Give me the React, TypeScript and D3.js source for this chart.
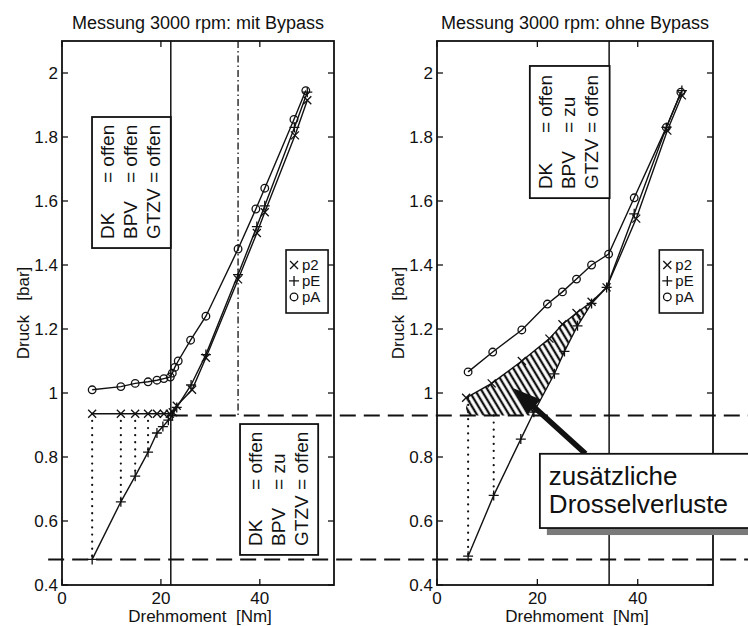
import React from 'react';
import * as d3 from 'd3';

const W = 748;
const H = 626;
const FONT = '"Liberation Sans", Arial, Helvetica, sans-serif';
const INK = '#111';

// axes
const xDomain: [number, number] = [0, 55];
const yDomain: [number, number] = [0.4, 2.1];
const xTicks = [0, 20, 40];
const yTicks = [0.4, 0.6, 0.8, 1, 1.2, 1.4, 1.6, 1.8, 2];

// Messung mit Bypass  [Drehmoment Nm, Druck bar]
const leftP2 = [[6.1, 0.935], [11.9, 0.935], [14.8, 0.935], [17.4, 0.935], [19.2, 0.935], [20.6, 0.935], [21.8, 0.935], [22.4, 0.94], [23.2, 0.96], [26.3, 1.01], [29.1, 1.11], [35.6, 1.355], [39.4, 1.5], [41.0, 1.565], [47.1, 1.805], [49.6, 1.915]];
const leftPE = [[6.1, 0.48], [11.9, 0.66], [14.8, 0.74], [17.4, 0.815], [19.2, 0.875], [20.4, 0.895], [21.5, 0.915], [22.3, 0.93], [23.2, 0.955], [26.1, 1.025], [29.1, 1.12], [35.6, 1.37], [39.4, 1.52], [41.0, 1.585], [47.0, 1.83], [49.6, 1.94]];
const leftPA = [[6.1, 1.01], [11.9, 1.02], [14.8, 1.03], [17.4, 1.035], [19.2, 1.04], [20.6, 1.045], [21.9, 1.05], [22.3, 1.062], [22.8, 1.08], [23.5, 1.1], [26.0, 1.165], [29.1, 1.24], [35.6, 1.45], [39.2, 1.575], [41.0, 1.64], [46.9, 1.855], [49.3, 1.945]];

// Messung ohne Bypass
const rightP2 = [[5.8, 0.985], [10.9, 1.03], [16.9, 1.1], [22.4, 1.17], [25.0, 1.215], [27.8, 1.25], [30.8, 1.285], [33.8, 1.33], [39.7, 1.545], [45.9, 1.82], [48.8, 1.93]];
const rightPE = [[6.2, 0.49], [11.3, 0.68], [16.7, 0.856], [19.3, 0.94], [23.4, 1.06], [25.4, 1.13], [28.0, 1.21], [30.8, 1.28], [33.8, 1.33], [39.3, 1.56], [45.7, 1.83], [48.8, 1.945]];
const rightPA = [[6.2, 1.066], [11.1, 1.128], [16.9, 1.197], [22.0, 1.278], [25.0, 1.316], [27.8, 1.356], [30.8, 1.4], [34.2, 1.434], [39.3, 1.61], [45.7, 1.83], [48.6, 1.94]];

// dotted drops [x, yTop, yBottom]
const leftDrops = [[6.1, 0.935, 0.48], [11.9, 0.935, 0.66], [14.8, 0.935, 0.74], [17.4, 0.935, 0.815]];
const rightDrops = [[6.2, 0.985, 0.49], [11.3, 0.93, 0.68]];

// reference lines
const upperLevel = 0.93;
const lowerLevel = 0.48;
const leftSolidX = 22.0;
const leftDashDotX = 35.6;
const rightSolidX = 34.3;

const legendNames = ['p2', 'pE', 'pA'];
const legendMarks = ['x', '+', 'o'];

const stateOpen = [['DK', 'offen'], ['BPV', 'offen'], ['GTZV', 'offen']];
const stateClosed = [['DK', 'offen'], ['BPV', 'zu'], ['GTZV', 'offen']];

function Marker({ kind, x, y }: { kind: string; x: number; y: number }) {
  if (kind === 'o') return <circle cx={x} cy={y} r={3.8} fill="none" stroke={INK} strokeWidth={1.3} />;
  if (kind === 'x') return <path d={`M${x - 4},${y - 4}L${x + 4},${y + 4}M${x - 4},${y + 4}L${x + 4},${y - 4}`} stroke={INK} strokeWidth={1.3} />;
  return <path d={`M${x - 5},${y}H${x + 5}M${x},${y - 5}V${y + 5}`} stroke={INK} strokeWidth={1.3} />;
}

function StateBox({ xs, ys, lines, x, y }: any) {
  const l = x(xs[0]), r = x(xs[1]), t = y(ys[1]), b = y(ys[0]);
  return (
    <g>
      <rect x={l} y={t} width={r - l} height={b - t} fill="#fff" stroke={INK} strokeWidth={1.8} />
      {lines.map((ln: string[], i: number) => (
        <g key={i} transform={`translate(${l + 22 + i * 23},${b - 9}) rotate(-90)`} fontSize={19}>
          <text x={0} y={0}>{ln[0]}</text>
          <text x={56} y={0}>{'= ' + ln[1]}</text>
        </g>
      ))}
    </g>
  );
}

function Legend({ xs, ys, x, y }: any) {
  const l = x(xs[0]), r = x(xs[1]), t = y(ys[1]), b = y(ys[0]);
  return (
    <g>
      <rect x={l} y={t} width={r - l} height={b - t} fill="#fff" stroke={INK} strokeWidth={1.6} />
      {legendNames.map((n, i) => (
        <g key={n}>
          <Marker kind={legendMarks[i]} x={l + 8} y={t + 15 + i * 16} />
          <text x={l + 16} y={t + 20 + i * 16} fontSize={15}>{n}</text>
        </g>
      ))}
    </g>
  );
}

function Panel({ x0, x1, title, p2, pE, pA, drops, children }: any) {
  const top = 41, bottom = 585;
  const x = d3.scaleLinear().domain(xDomain).range([x0, x1]);
  const y = d3.scaleLinear().domain(yDomain).range([bottom, top]);
  const line = d3.line<number[]>().x(d => x(d[0])).y(d => y(d[1]));
  const series = [
    { data: pA, mark: 'o' },
    { data: p2, mark: 'x' },
    { data: pE, mark: '+' },
  ];
  const cx = (x0 + x1) / 2;
  return (
    <g>
      <text x={cx} y={29} textAnchor="middle" fontSize={18}>{title}</text>
      {drops.map((d: number[], i: number) => (
        <line key={i} x1={x(d[0])} x2={x(d[0])} y1={y(d[1])} y2={y(d[2])} stroke={INK} strokeWidth={2.2} strokeDasharray="0.1 7" strokeLinecap="round" />
      ))}
      {series.map((s, i) => (
        <g key={i}>
          <path d={line(s.data) || ''} fill="none" stroke={INK} strokeWidth={1.4} />
          {s.data.map((d: number[], j: number) => <Marker key={j} kind={s.mark} x={x(d[0])} y={y(d[1])} />)}
        </g>
      ))}
      {children && children(x, y)}
      <rect x={x0} y={top} width={x1 - x0} height={bottom - top} fill="none" stroke={INK} strokeWidth={1.8} />
      {xTicks.map(t => (
        <g key={t}>
          <line x1={x(t)} x2={x(t)} y1={bottom} y2={bottom - 6} stroke={INK} strokeWidth={1.3} />
          <line x1={x(t)} x2={x(t)} y1={top} y2={top + 6} stroke={INK} strokeWidth={1.3} />
          <text x={x(t)} y={604} textAnchor="middle" fontSize={17}>{t}</text>
        </g>
      ))}
      {yTicks.map(t => (
        <g key={t}>
          <line x1={x0} x2={x0 + 6} y1={y(t)} y2={y(t)} stroke={INK} strokeWidth={1.3} />
          <line x1={x1} x2={x1 - 6} y1={y(t)} y2={y(t)} stroke={INK} strokeWidth={1.3} />
          <text x={x0 - 4} y={y(t) + 6} textAnchor="end" fontSize={17}>{t}</text>
        </g>
      ))}
      <text x={cx + 2} y={622} textAnchor="middle" fontSize={17} style={{ whiteSpace: 'pre' }}>{'Drehmoment  [Nm]'}</text>
      <text transform={`translate(${x0 - 33},${(top + bottom) / 2}) rotate(-90)`} textAnchor="middle" fontSize={17} style={{ whiteSpace: 'pre' }}>{'Druck   [bar]'}</text>
    </g>
  );
}

export default function App() {
  const top = 41, bottom = 585;
  const xL = d3.scaleLinear().domain(xDomain).range([62, 334]);
  const xR = d3.scaleLinear().domain(xDomain).range([437, 713]);
  const y = d3.scaleLinear().domain(yDomain).range([bottom, top]);

  // hatched region: under p2, left of pE, above the upper dashed level
  const hatchTop = rightP2.filter(d => d[0] <= 33.8);
  const hatchRight = rightPE.filter(d => d[0] >= 19.3 && d[0] <= 33.8).reverse();
  const hatchPoly = [...hatchTop, ...hatchRight, [19.0, upperLevel], [hatchTop[0][0], upperLevel]];

  // arrow from callout to hatched region
  const tip = [xR(15.2), y(1.015)];
  const tail = [xR(29.6), y(0.81)];
  const ang = Math.atan2(tip[1] - tail[1], tip[0] - tail[0]);
  const ux = Math.cos(ang), uy = Math.sin(ang);
  const hl = 28, hw = 10, sw = 2.8;
  const bx = tip[0] - ux * hl, by = tip[1] - uy * hl;
  const arrowPts = [
    [tail[0] - uy * sw, tail[1] + ux * sw],
    [bx - uy * sw, by + ux * sw],
    [bx - uy * hw, by + ux * hw],
    tip,
    [bx + uy * hw, by - ux * hw],
    [bx + uy * sw, by - ux * sw],
    [tail[0] + uy * sw, tail[1] - ux * sw],
  ];

  const cl = xR(20.5), ct = y(0.81), cb = y(0.578);

  return (
    <svg width={W} height={H} viewBox={`0 0 ${W} ${H}`} style={{ position: 'absolute', left: 0, top: 0, background: '#fff' }} fontFamily={FONT} fill={INK}>
      <defs>
        <pattern id="hatch" patternUnits="userSpaceOnUse" width={5.5} height={12} patternTransform="rotate(-31)">
          <line x1={2.75} y1={0} x2={2.75} y2={12} stroke={INK} strokeWidth={2.3} />
        </pattern>
      </defs>
      <rect width={W} height={H} fill="#fff" />

      <Panel x0={62} x1={334} title="Messung 3000 rpm: mit Bypass" p2={leftP2} pE={leftPE} pA={leftPA} drops={leftDrops}>
        {(x: any, yy: any) => (
          <g>
            <line x1={x(leftSolidX)} x2={x(leftSolidX)} y1={top} y2={bottom} stroke={INK} strokeWidth={1.5} />
            <line x1={x(leftDashDotX)} x2={x(leftDashDotX)} y1={top} y2={yy(upperLevel)} stroke={INK} strokeWidth={1.3} strokeDasharray="7 3 1.5 3" />
            <StateBox xs={[6.07, 22.0]} ys={[1.453, 1.8625]} lines={stateOpen} x={x} y={yy} />
            <StateBox xs={[36.0, 51.8]} ys={[0.494, 0.903]} lines={stateClosed} x={x} y={yy} />
            <Legend xs={[45.3, 53.8]} ys={[1.25, 1.447]} x={x} y={yy} />
          </g>
        )}
      </Panel>

      <Panel x0={437} x1={713} title="Messung 3000 rpm: ohne Bypass" p2={rightP2} pE={rightPE} pA={rightPA} drops={rightDrops}>
        {(x: any, yy: any) => (
          <g>
            <path d={'M' + hatchPoly.map(d => `${x(d[0])},${yy(d[1])}`).join('L') + 'Z'} fill="url(#hatch)" stroke="none" />
            <line x1={x(rightSolidX)} x2={x(rightSolidX)} y1={top} y2={bottom} stroke={INK} strokeWidth={1.5} />
            <StateBox xs={[18.5, 34.4]} ys={[1.609, 2.022]} lines={stateClosed} x={x} y={yy} />
            <Legend xs={[44.3, 53.0]} ys={[1.25, 1.447]} x={x} y={yy} />
          </g>
        )}
      </Panel>

      {/* horizontal reference levels across both panels */}
      <line x1={xL(22.2)} x2={xR(62)} y1={y(upperLevel)} y2={y(upperLevel)} stroke={INK} strokeWidth={2} strokeDasharray="16 8" />
      <line x1={xL(-2.8)} x2={xR(62)} y1={y(lowerLevel)} y2={y(lowerLevel)} stroke={INK} strokeWidth={2} strokeDasharray="16 8" />

      {/* callout */}
      <polygon points={arrowPts.map(p => p.join(',')).join(' ')} fill={INK} />
      <rect x={cl + 7} y={cb} width={W - cl} height={7} fill="#7a7a7a" />
      <rect x={cl} y={ct} width={W - cl + 10} height={cb - ct} fill="#fff" stroke={INK} strokeWidth={1.8} />
      <text x={cl + 9} y={ct + 31} fontSize={26}>zusätzliche</text>
      <text x={cl + 9} y={ct + 59} fontSize={26}>Drosselverluste</text>
    </svg>
  );
}
